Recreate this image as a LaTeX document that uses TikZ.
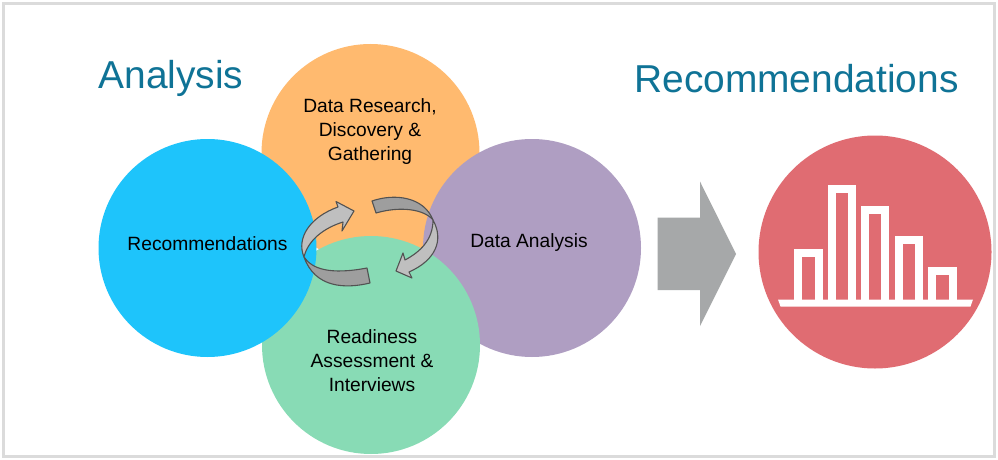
\documentclass[tikz,border=0pt]{standalone}
\usepackage{fontspec}
\setmainfont{Liberation Sans}
\definecolor{cOrange}{HTML}{FFBA6F}
\definecolor{cBlue}{HTML}{1EC4FB}
\definecolor{cPurple}{HTML}{AF9EC2}
\definecolor{cGreen}{HTML}{88DBB5}
\definecolor{cRed}{HTML}{E06C72}
\definecolor{cTitle}{HTML}{0F7396}
\definecolor{cGrey}{HTML}{A6A8A9}
\tikzset{
  petal/.style={circle, inner sep=0pt, minimum size=218pt},
  title/.style={text=cTitle, font=\fontsize{38.9}{44}\selectfont, inner sep=0pt},
  label/.style={text=black, font=\fontsize{19.2}{24}\selectfont, align=center, inner sep=0pt},
  ribbonlight/.style={fill=black!25, draw=black!68, line width=1.1pt, line join=round},
  ribbondark/.style={fill=black!38, draw=black!68, line width=1.1pt, line join=round},
  bar/.style={draw=white, line width=8pt, miter limit=10}
}
\begin{document}
\begin{tikzpicture}[x=1pt,y=-1pt]
  \useasboundingbox (0,0) rectangle (998,460);
  % frame
  \fill[white] (0,0) rectangle (998,460);
  \draw[black!14, line width=2.5pt] (3.5,3.5) rectangle (994.5,456.5);

  % circles
  \node[petal, fill=cOrange] (orange) at (370.5,153) {};
  \node[petal, fill=cPurple] (purple) at (532,248) {};
  \node[petal, fill=cGreen] (green) at (371,345) {};
  \node[petal, fill=cBlue] (blue) at (207.5,248) {};

  % left arrow
  \path[ribbondark] (304,257) .. controls (312,269) and (330,275) .. (367,268)
    -- (370,283) .. controls (345,289) and (315,288) .. (304,257) -- cycle;
  \path[ribbonlight] (304,257) .. controls (296,238) and (310,217) .. (338,207)
    -- (336,201.5) -- (354,211) -- (342,231) -- (343,222)
    .. controls (324,228) and (308,240) .. (304,257) -- cycle;

  % right arrow
  \path[ribbondark] (372,201) .. controls (395,193) and (424,197) .. (433,220)
    .. controls (424,209) and (400,206) .. (376,213) -- cycle;
  \path[ribbonlight] (433,220) .. controls (444,240) and (436,260) .. (409,272)
    -- (412,278) -- (396,271) -- (403,253) -- (405,260)
    .. controls (420,252) and (433,240) .. (433,220) -- cycle;

  % arrow to the result
  \fill[cGrey] (657.5,217.5) -- (700,217.5) -- (700,181.5) -- (736,254)
    -- (700,326) -- (700,290) -- (657.5,290) -- cycle;

  % result circle with chart
  \node[circle, inner sep=0pt, minimum size=233pt, fill=cRed] (result) at (875,252) {};
  \draw[bar] (797.5,303) |- (818.5,253) -- (818.5,303);
  \draw[bar] (831.5,303) |- (852,189) -- (852,303);
  \draw[bar] (865,303) |- (885,210) -- (885,303);
  \draw[bar] (899,303) |- (919,240) -- (919,303);
  \draw[bar] (932,303) |- (953,271) -- (953,303);
  \fill[white] (778,299.5) -- (973,299.5) -- (970.5,306.5) -- (780.5,306.5) -- cycle;

  % texts
  \node[title] (tAnalysis) at (171,80) {\strut Analysis};
  \node[title] (tRec) at (796.5,84) {\strut Recommendations};
  \node[label] (lOrange) at (370,132) {Data Research,\\Discovery \&\\Gathering};
  \node[label] (lBlue) at (207.5,244) {Recommendations};
  \node[label] (lPurple) at (529,243) {Data Analysis};
  \node[label] (lGreen) at (372,361) {Readiness\\Assessment \&\\Interviews};
\end{tikzpicture}
\end{document}
